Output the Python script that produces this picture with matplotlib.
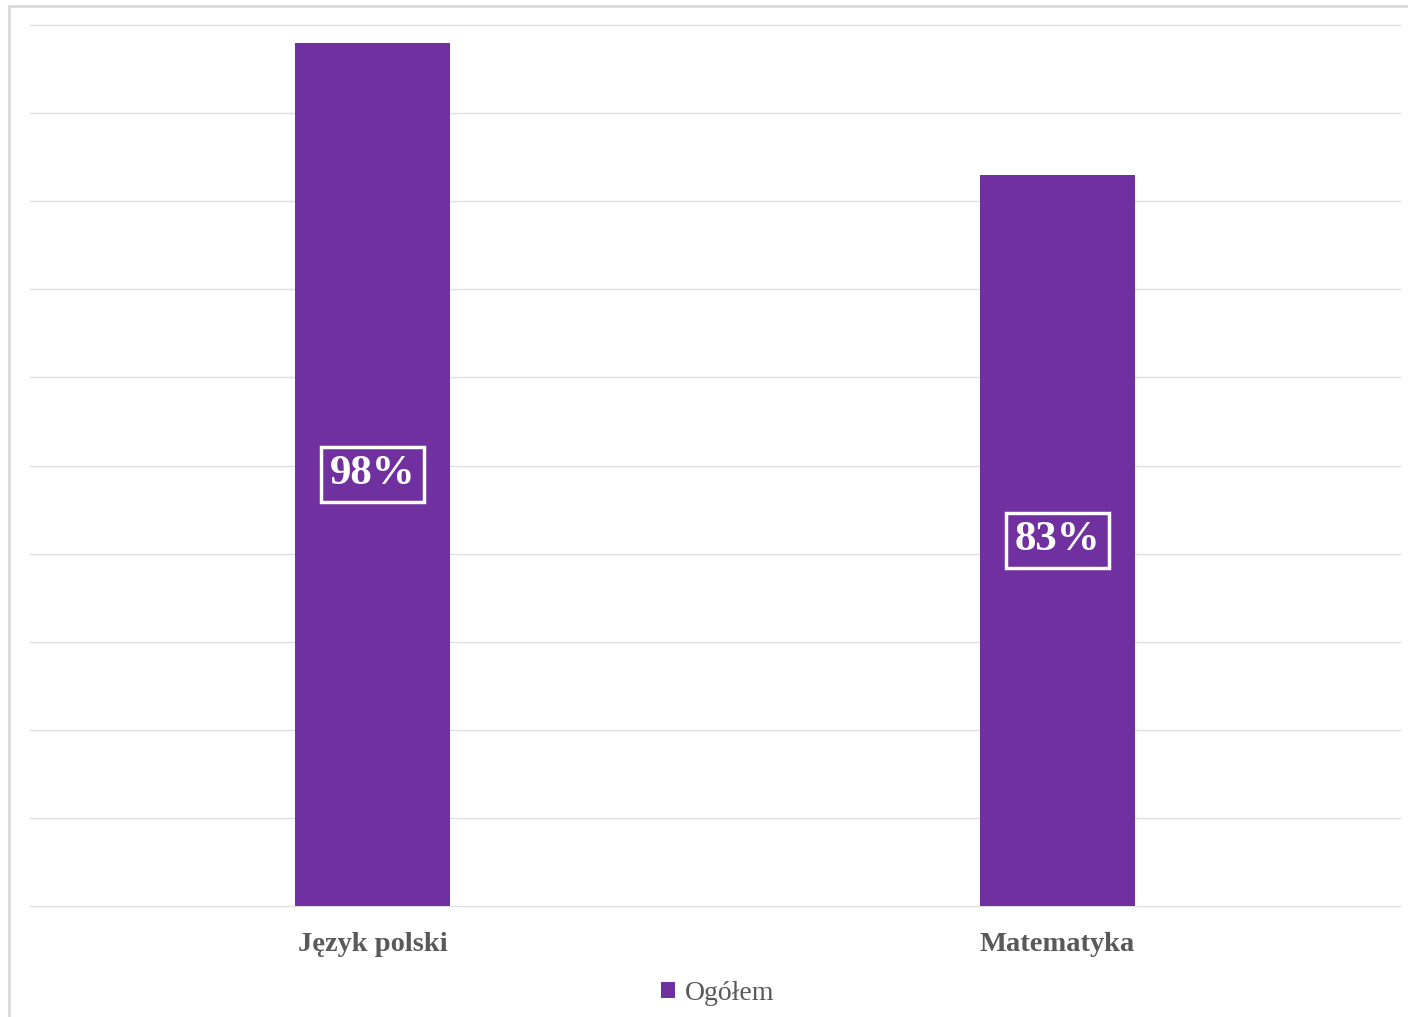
import matplotlib.pyplot as plt
from matplotlib.patches import Rectangle

plt.rcParams['font.family'] = ['Liberation Serif', 'DejaVu Serif']

# dane
kategorie = ["Język polski", "Matematyka"]
wartosci = [98, 83]
seria = "Ogółem"
kolor = "#7030A0"

fig = plt.figure(figsize=(14.08, 10.17), dpi=100)
ax = fig.add_axes([30 / 1408, 1 - 906 / 1017, 1370 / 1408, 881 / 1017])

x = list(range(len(kategorie)))
bars = ax.bar(x, wartosci, width=0.225, color=kolor, label=seria, zorder=3)

ax.set_xlim(-0.5, len(kategorie) - 0.5)
ax.set_ylim(0, 100)
ax.set_yticks(range(0, 101, 10))
ax.yaxis.grid(True, color="#e0e0e0", linewidth=1.0, zorder=0)
for gl in ax.get_ygridlines():
    gl.set_clip_on(False)
ax.tick_params(axis="y", left=False, labelleft=False)
ax.tick_params(axis="x", bottom=False, pad=15)
ax.set_xticks(x)
ax.set_xticklabels(kategorie, fontsize=20.5, fontweight="bold", color="#595959")
for s in ax.spines.values():
    s.set_visible(False)

# etykiety danych w środku słupków
for b, v in zip(bars, wartosci):
    ax.text(b.get_x() + b.get_width() / 2, v / 2, f"{v}%",
            ha="center", va="center", fontsize=31, fontweight="bold",
            color="white", zorder=4,
            bbox=dict(boxstyle="square,pad=0.2", facecolor="none",
                      edgecolor="white", linewidth=2.5))

leg = fig.legend(loc="center", bbox_to_anchor=(718 / 1408, 1 - 993 / 1017),
                 frameon=False, fontsize=20, handlelength=0.5, handleheight=0.5,
                 handletextpad=0.35)
for t in leg.get_texts():
    t.set_color("#595959")

# ramka wykresu
fig.patches.append(Rectangle((9 / 1408, -0.1), 1.2, 1 - 6 / 1017 + 0.1,
                             transform=fig.transFigure, fill=False,
                             edgecolor="#d9d9d9", linewidth=2))

fig.savefig("out.png", dpi=100)
